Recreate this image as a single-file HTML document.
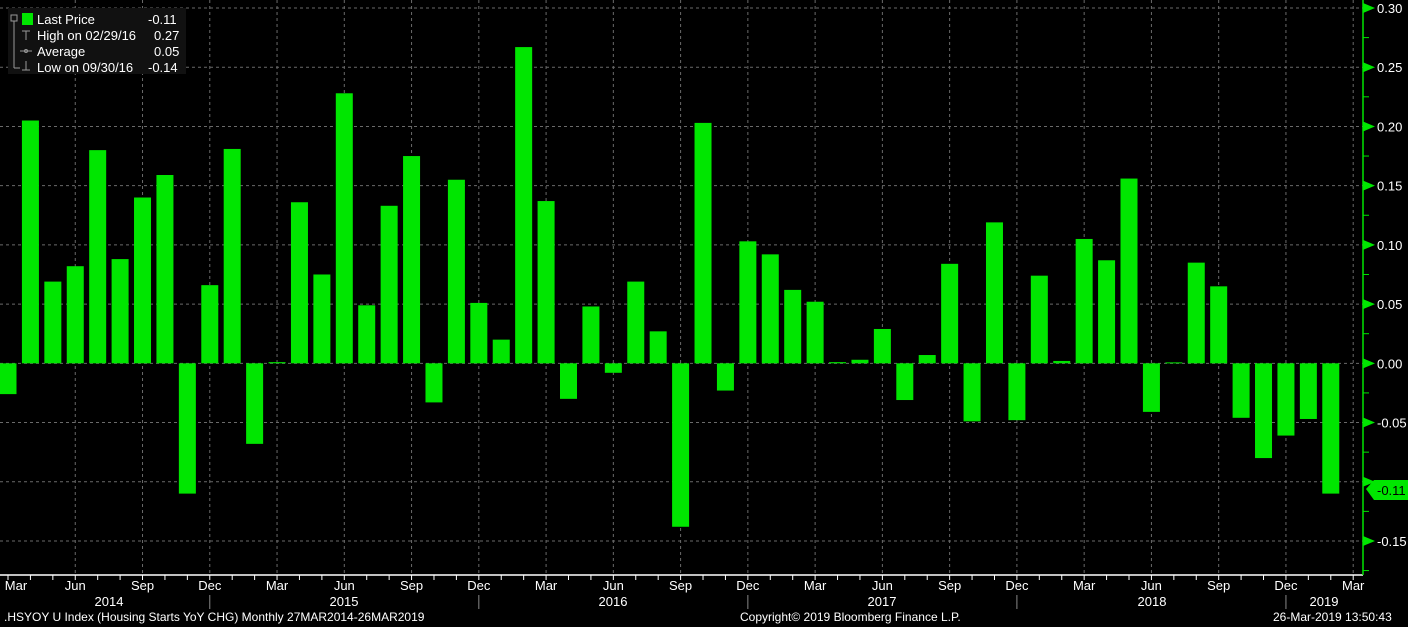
<!DOCTYPE html>
<html><head><meta charset="utf-8"><style>
html,body{margin:0;padding:0;background:#000;}
svg{display:block;font-family:"Liberation Sans",sans-serif;}
</style></head><body>
<svg id="c" width="1408" height="627" viewBox="0 0 1408 627" xmlns="http://www.w3.org/2000/svg">
<rect width="1408" height="627" fill="#000"/>
<g id="grid" stroke="#6a6a6a" stroke-width="1" stroke-dasharray="3,3"></g>
<g id="bars" fill="#00e600"></g>
<line x1="0" y1="575" x2="1363" y2="575" stroke="#fff" stroke-width="1.5"/>
<line x1="1363" y1="0" x2="1363" y2="575" stroke="#00e600" stroke-width="1.5"/>
<g id="ax" font-size="13" fill="#fff"></g>
<g id="ylab" font-size="13" fill="#fff"></g>
<polygon points="1366,489 1374,480 1408,480 1408,500 1374,500" fill="#00e600"/>
<text x="1377" y="495" font-size="13" fill="#000">-0.11</text>
<g font-size="12" fill="#fff">
<text x="4" y="621">.HSYOY U Index (Housing Starts YoY CHG)  Monthly 27MAR2014-26MAR2019</text>
<text x="740" y="621">Copyright© 2019 Bloomberg Finance L.P.</text>
<text x="1273" y="621">26-Mar-2019 13:50:43</text>
</g>
<rect x="8" y="8" width="178" height="66" fill="#111"/>
<g font-size="13" fill="#fff">
<rect x="22" y="13" width="11" height="12" fill="#00e600"/>
<text x="37" y="24">Last Price</text><text x="148" y="24">-0.11</text>
<text x="37" y="40">High on 02/29/16</text><text x="154" y="40">0.27</text>
<text x="37" y="56">Average</text><text x="154" y="56">0.05</text>
<text x="37" y="72">Low on 09/30/16</text><text x="148" y="72">-0.14</text>
</g>
<g stroke="#999" fill="none" stroke-width="1">
<rect x="11" y="15" width="6" height="6"/><line x1="14" y1="21" x2="14" y2="68"/><line x1="14" y1="68" x2="20" y2="68"/>
<line x1="22" y1="31" x2="30" y2="31"/><line x1="26" y1="31" x2="26" y2="40"/>
<line x1="20" y1="51" x2="32" y2="51"/><circle cx="26" cy="51" r="1.5"/>
<line x1="22" y1="70" x2="30" y2="70"/><line x1="26" y1="61" x2="26" y2="70"/>
</g>
</svg>
<script>
const vals=[-0.026,0.205,0.069,0.082,0.180,0.088,0.140,0.159,-0.110,0.066,0.181,-0.068,0.001,0.136,0.075,0.228,0.049,0.133,0.175,-0.033,0.155,0.051,0.020,0.267,0.137,-0.030,0.048,-0.008,0.069,0.027,-0.138,0.203,-0.023,0.103,0.092,0.062,0.052,0.001,0.003,0.029,-0.031,0.007,0.084,-0.049,0.119,-0.048,0.074,0.002,0.105,0.087,0.156,-0.041,0.0008,0.085,0.065,-0.046,-0.080,-0.061,-0.047,-0.110];
const Y=v=>8+(0.30-v)*1184.4, X=i=>8+i*22.42;
const ns="http://www.w3.org/2000/svg";
function el(p,t,a,txt){const e=document.createElementNS(ns,t);for(const k in a)e.setAttribute(k,a[k]);if(txt)e.textContent=txt;document.getElementById(p).appendChild(e);}
for(let k=0;k<10;k++){const v=0.30-k*0.05,y=Y(v);
 el('grid','line',{x1:0,x2:1363,y1:y,y2:y});
 el('ax','polygon',{points:`1363,${y-5} 1375,${y} 1363,${y+5}`,fill:'#00e600'});
 if(k!=8) el('ylab','text',{x:1377,y:y+5},(v<-0.001?'-':'')+Math.abs(v).toFixed(2));
 el('ax','line',{x1:1363,x2:1369,y1:y+29.6,y2:y+29.6,stroke:'#00e600'});
}
vals.forEach((v,i)=>{const y0=Y(0),y1=Y(v);el('bars','rect',{x:X(i)-8.5,width:17,y:Math.min(y0,y1),height:Math.max(1,Math.abs(y1-y0))});});
const mn=['Mar','Jun','Sep','Dec'];
for(let i=0;i<=60;i++){const x=X(i);
 el('ax','line',{x1:x,x2:x,y1:575,y2:580,stroke:'#fff'});
 if(i%3==0){ if(i>0) el('grid','line',{x1:x,x2:x,y1:0,y2:575});
  el('ax','text',{x:i==0?16:x,y:590,'text-anchor':'middle'},mn[(i/3)%4]);}
}
[9,21,33,45,57].forEach(i=>el('ax','line',{x1:X(i),x2:X(i),y1:595,y2:609,stroke:'#888'}));
[[2014,109],[2015,344],[2016,613],[2017,882],[2018,1152],[2019,1324]].forEach(a=>el('ax','text',{x:a[1],y:606,'text-anchor':'middle'},a[0]));
</script>
</body></html>
